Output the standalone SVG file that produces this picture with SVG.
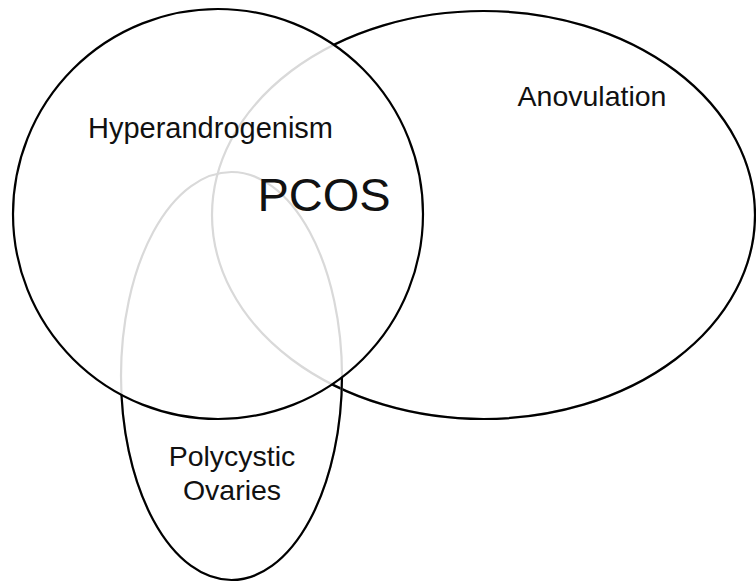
<svg xmlns="http://www.w3.org/2000/svg" width="756" height="583" viewBox="0 0 756 583">
<style>
.lbl{font-family:"Liberation Sans",Arial,sans-serif;fill:#111;text-anchor:middle}
.edge{fill:none;stroke-width:2.2}
.dim{stroke:#d9d9d9}
.dark{stroke:#000}
</style>
<defs>
<mask id="outsideCircle" maskUnits="userSpaceOnUse" x="0" y="0" width="756" height="583">
<rect x="0" y="0" width="756" height="583" fill="#fff"/>
<circle cx="218" cy="214" r="205" fill="#000"/>
</mask>
</defs>
<rect x="0" y="0" width="756" height="583" fill="#fff"/>
<g id="anovulation">
<ellipse class="edge dim" cx="483.5" cy="215" rx="271.5" ry="204"/>
<ellipse class="edge dark" cx="483.5" cy="215" rx="271.5" ry="204" mask="url(#outsideCircle)"/>
<text class="lbl" x="592" y="106" font-size="28.5">Anovulation</text>
</g>
<g id="polycystic-ovaries">
<ellipse class="edge dim" cx="231.5" cy="376" rx="110.5" ry="204"/>
<ellipse class="edge dark" cx="231.5" cy="376" rx="110.5" ry="204" mask="url(#outsideCircle)"/>
<text class="lbl" x="232" y="466" font-size="28.5">Polycystic</text>
<text class="lbl" x="232" y="500" font-size="28.5">Ovaries</text>
</g>
<g id="hyperandrogenism">
<circle class="edge dark" cx="218" cy="214" r="205"/>
<text class="lbl" x="210.5" y="138" font-size="29">Hyperandrogenism</text>
</g>
<g id="pcos">
<text class="lbl" x="324" y="211" font-size="47">PCOS</text>
</g>
<g id="connectors"/>
</svg>
